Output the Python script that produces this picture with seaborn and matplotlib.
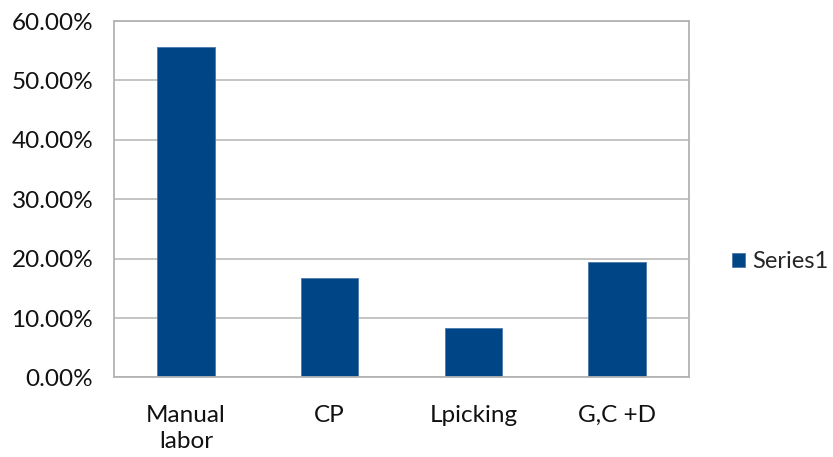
import matplotlib
matplotlib.use("Agg")
import matplotlib.pyplot as plt
import seaborn as sns
import pandas as pd
from matplotlib.ticker import FuncFormatter, MultipleLocator

categories = ["Manual\nlabor", "CP", "Lpicking", "G,C +D"]
shares = [55.56, 16.67, 8.33, 19.44]
series_name = "Series1"

df = pd.DataFrame({"category": categories, "share": shares, "series": series_name})

sns.set_theme(style="white")
plt.rcParams["font.family"] = ["Lato", "DejaVu Sans"]

fig = plt.figure(figsize=(8.33, 4.57), dpi=100)
ax = fig.add_axes([0.137, 0.174, 0.690, 0.780])

sns.barplot(data=df, x="category", y="share", hue="series",
            palette=["#004586"], width=0.4, ax=ax, saturation=1,
            edgecolor="#4a78ad", linewidth=0.6, legend=True)

ax.set_ylim(0, 60)
ax.yaxis.set_major_locator(MultipleLocator(10))
ax.yaxis.set_major_formatter(FuncFormatter(lambda v, p: f"{v:.2f}%"))
ax.grid(axis="y", color="#bfbfbf", linewidth=1.3)
ax.set_axisbelow(True)
for s in ax.spines.values():
    s.set_color("#b3b3b3")
    s.set_linewidth(1.3)
ax.set_xlabel("")
ax.set_ylabel("")
ax.tick_params(axis="both", labelsize=17.5, colors="#111111", length=0)
ax.tick_params(axis="y", pad=15)
ax.tick_params(axis="x", pad=20)
for lbl in ax.get_xticklabels():
    lbl.set_linespacing(1.3)
    lbl.set_verticalalignment("top")

ax.legend(loc="center left", bbox_to_anchor=(1.075, 0.324), frameon=False,
          fontsize=17, handlelength=0.55, handleheight=0.55, handletextpad=0.3,
          borderaxespad=0, borderpad=0)

fig.savefig("out.png", dpi=100)
